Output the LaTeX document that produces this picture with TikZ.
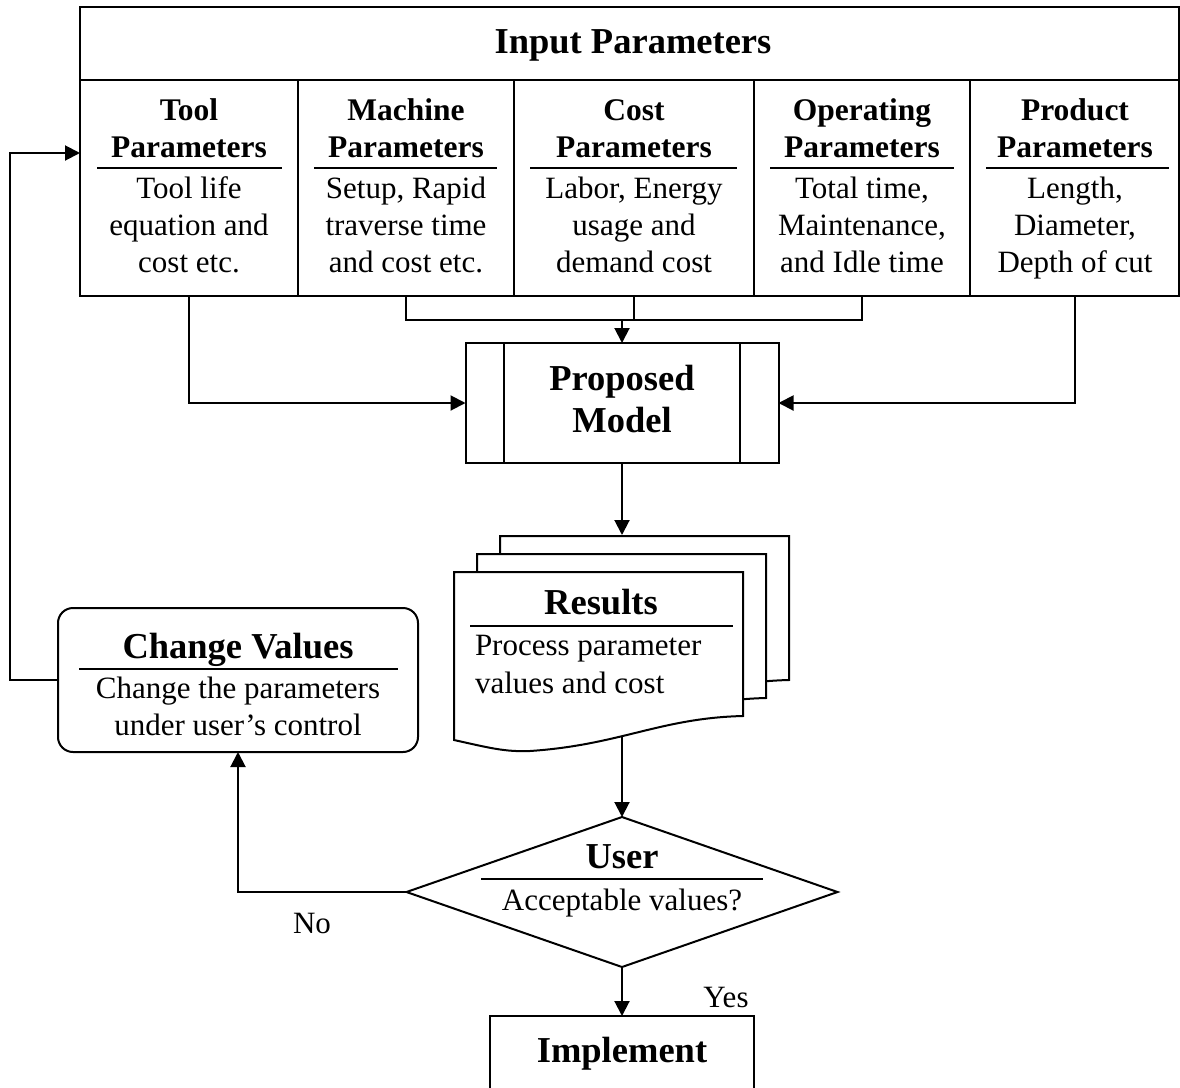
\documentclass[tikz,border=0pt]{standalone}
\usepackage{fontspec}
\setmainfont{Liberation Serif}
\usetikzlibrary{arrows.meta,shapes.geometric}
\begin{document}
\begin{tikzpicture}[x=1pt,y=-1pt,line width=2pt,
  box/.style={draw,rectangle,inner sep=0pt,outer sep=0pt},
  arr/.style={-{Triangle[length=15pt,width=15pt]}},
  hb/.style={font=\fontsize{31.5}{37}\selectfont\bfseries,anchor=base,inner sep=0pt},
  tx/.style={font=\fontsize{31}{37}\selectfont,anchor=base,inner sep=0pt},
  big/.style={font=\fontsize{36.5}{42}\selectfont\bfseries,anchor=base,inner sep=0pt},
  uline/.style={line width=2pt}]
\useasboundingbox (0,0) rectangle (1180,1087);
\clip (0,0) rectangle (1180,1087);

% ---------- input parameter table ----------
\node[box,minimum width=1099pt,minimum height=73pt] (hdr) at (629.5,43.5) {};
\node[big] (hdrt) at (633,53) {Input Parameters};
\node[box,minimum width=218pt,minimum height=216pt] (tool) at (189,188) {};
\node[box,minimum width=216pt,minimum height=216pt] (mach) at (406,188) {};
\node[box,minimum width=240pt,minimum height=216pt] (cost) at (634,188) {};
\node[box,minimum width=216pt,minimum height=216pt] (oper) at (862,188) {};
\node[box,minimum width=209pt,minimum height=216pt] (prod) at (1074.5,188) {};

% Tool
\node[hb] (t1) at (189,120) {Tool};
\node[hb] (t2) at (189,157) {Parameters};
\draw[uline] (97,168) -- (282,168);
\node[tx] (t3) at (189,198) {Tool life};
\node[tx] (t4) at (189,235) {equation and};
\node[tx] (t5) at (189,272) {cost etc.};
% Machine
\node[hb] (m1) at (406,120) {Machine};
\node[hb] (m2) at (406,157) {Parameters};
\draw[uline] (314,168) -- (497,168);
\node[tx] (m3) at (406,198) {Setup, Rapid};
\node[tx] (m4) at (406,235) {traverse time};
\node[tx] (m5) at (406,272) {and cost etc.};
% Cost
\node[hb] (c1) at (634,120) {Cost};
\node[hb] (c2) at (634,157) {Parameters};
\draw[uline] (530,168) -- (737,168);
\node[tx] (c3) at (634,198) {Labor, Energy};
\node[tx] (c4) at (634,235) {usage and};
\node[tx] (c5) at (634,272) {demand cost};
% Operating
\node[hb] (o1) at (862,120) {Operating};
\node[hb] (o2) at (862,157) {Parameters};
\draw[uline] (770,168) -- (954,168);
\node[tx] (o3) at (862,198) {Total time,};
\node[tx] (o4) at (862,235) {Maintenance,};
\node[tx] (o5) at (862,272) {and Idle time};
% Product
\node[hb] (p1) at (1075,120) {Product};
\node[hb] (p2) at (1075,157) {Parameters};
\draw[uline] (986,168) -- (1169,168);
\node[tx] (p3) at (1075,198) {Length,};
\node[tx] (p4) at (1075,235) {Diameter,};
\node[tx] (p5) at (1075,272) {Depth of cut};

% ---------- proposed model ----------
\node[box,minimum width=313pt,minimum height=120pt] (model) at (622,403) {};
\draw ([xshift=38pt]model.north west) -- ([xshift=38pt]model.south west);
\draw ([xshift=-39pt]model.north east) -- ([xshift=-39pt]model.south east);
\node[big] (mt1) at (622,390) {Proposed};
\node[big] (mt2) at (622,432) {Model};

% ---------- results (document stack) ----------
\foreach \dx/\dy in {46/-36,23/-18,0/0}{
  \begin{scope}[shift={(\dx,\dy)}]
    \draw[fill=white] (454,572) -- (743,572) -- (743,716)
      .. controls (660,718) and (620,745) .. (530,751)
      .. controls (505,752) and (490,748) .. (454,740) -- cycle;
  \end{scope}
}
\node[inner sep=0pt,minimum width=289pt,minimum height=144pt] (res) at (644.5,608) {};
\coordinate (resbot) at (622,737);
\node[big] (rt) at (601,614) {Results};
\draw[uline] (470,626) -- (733,626);
\node[tx,anchor=base west] (r1) at (474,655) {Process parameter};
\node[tx,anchor=base west] (r2) at (474,693) {values and cost};

% ---------- change values ----------
\node[draw,rectangle,rounded corners=15pt,minimum width=360pt,minimum height=144pt,inner sep=0pt,outer sep=0pt] (cv) at (238,680) {};
\node[big] (cvt) at (238,658) {Change Values};
\draw[uline] (79,669) -- (398,669);
\node[tx] (cv1) at (238,698) {Change the parameters};
\node[tx] (cv2) at (238,735) {under user’s control};

% ---------- decision ----------
\node[draw,diamond,minimum width=431pt,minimum height=150pt,inner sep=0pt,outer sep=0pt] (user) at (622,892) {};
\node[big] (ut) at (622,868) {User};
\draw[uline] (481,879) -- (763,879);
\node[tx] (u1) at (622,910) {Acceptable values?};

% ---------- implement ----------
\node[box,minimum width=264pt,minimum height=100pt] (impl) at (622,1066) {};
\node[big] (it) at (622,1062) {Implement};

\node[tx] (no) at (312,933) {No};
\node[tx] (yes) at (726,1007) {Yes};

% ---------- connectors ----------
\coordinate (busy) at (0,320);
\coordinate (fbx) at (10,0);
\coordinate (fbin) at (80,153);
\draw[arr] (tool.south) |- (model.west);
\draw[arr] (prod.south) |- (model.east);
\draw (mach.south) -- (mach.south |- busy) -| (oper.south);
\draw (cost.south) -- (cost.south |- busy);
\draw[arr] (model.north |- busy) -- (model.north);
\draw[arr] (model.south) -- (model.south |- res.north);
\draw[arr] (resbot) -- (user.north);
\draw[arr] (user.south) -- (impl.north);
\draw[arr] (user.west) -| (cv.south);
\draw[arr] (cv.west) -| (fbx |- fbin) -- (fbin);
\end{tikzpicture}
\end{document}
